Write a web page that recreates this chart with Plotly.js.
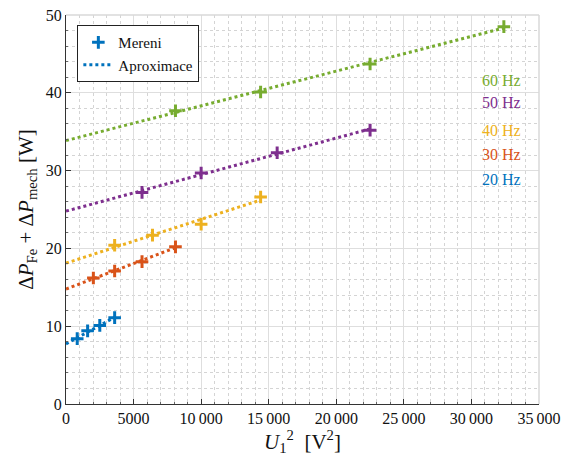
<!DOCTYPE html>
<html>
<head>
<meta charset="utf-8">
<script src="https://cdn.plot.ly/plotly-3.0.1.min.js"></script>
<style>html,body{margin:0;padding:0;background:#fff}#plot{width:566px;height:466px}</style>
</head>
<body>
<div id="plot"></div>
<script>
// Data
const seriesNames = ['20 Hz', '30 Hz', '40 Hz', '50 Hz', '60 Hz'];
const seriesColors = ['#0072BD', '#D95319', '#EDB120', '#7E2F8E', '#77AC30'];
const x20 = [830, 1600, 2500, 3600];
const y20 = [8.4, 9.4, 10.1, 11.1];
const x30 = [2025, 3600, 5625, 8100];
const y30 = [16.2, 17.1, 18.3, 20.2];
const x40 = [3600, 6400, 10000, 14400];
const y40 = [20.4, 21.7, 23.1, 26.6];
const x50 = [5625, 10000, 15625, 22500];
const y50 = [27.2, 29.7, 32.3, 35.2];
const x60 = [8100, 14400, 22500, 32400];
const y60 = [37.7, 40.1, 43.7, 48.5];
const labelY = [28.9, 32.1, 35.2, 38.7, 41.6];
const xTickVals = [0, 5000, 10000, 15000, 20000, 25000, 30000, 35000];
const xTickText = ['0', '5000', '10\u2009000', '15\u2009000', '20\u2009000', '25\u2009000', '30\u2009000', '35\u2009000'];
const yTickVals = [0, 10, 20, 30, 40, 50];

const xs = [x20, x30, x40, x50, x60];
const ys = [y20, y30, y40, y50, y60];

function fit(x, y) {
  const n = x.length;
  const mx = x.reduce((a, b) => a + b, 0) / n;
  const my = y.reduce((a, b) => a + b, 0) / n;
  let sxy = 0, sxx = 0;
  for (let i = 0; i < n; i++) { sxy += (x[i] - mx) * (y[i] - my); sxx += (x[i] - mx) ** 2; }
  const k = sxy / sxx;
  return {k: k, q: my - k * mx};
}

const traces = [];
const FONT = 'Liberation Serif';
for (let s = 0; s < 5; s++) {
  const f = fit(xs[s], ys[s]);
  const xmax = Math.max(...xs[s]);
  traces.push({
    x: [0, xmax], y: [f.q, f.q + f.k * xmax], mode: 'lines',
    line: {color: seriesColors[s], width: 3, dash: 'dot'},
    name: 'Aproximace', showlegend: s === 0, legendrank: 2, hoverinfo: 'skip'
  });
}
for (let s = 0; s < 5; s++) {
  traces.push({
    x: xs[s], y: ys[s], mode: 'markers',
    marker: {symbol: 'cross-thin', size: 9, color: seriesColors[s], line: {color: seriesColors[s], width: 3}},
    name: 'Mereni', showlegend: s === 0, legendrank: 1
  });
}

const annotations = seriesNames.map((t, i) => ({
  x: 33790, y: labelY[i], xref: 'x', yref: 'y', text: t, showarrow: false,
  xanchor: 'right', yanchor: 'middle', font: {family: FONT, size: 16, color: seriesColors[i]}
}));

const layout = {
  width: 566, height: 466,
  margin: {l: 65.5, r: 26.5, t: 15, b: 62},
  paper_bgcolor: '#fff', plot_bgcolor: '#fff',
  font: {family: FONT, size: 16, color: '#222'},
  showlegend: true,
  legend: {x: 0.024, y: 0.974, xanchor: 'left', yanchor: 'top', bgcolor: '#fff',
           bordercolor: '#222', borderwidth: 1, font: {family: FONT, size: 15, color: '#111'},
           traceorder: 'normal', tracegroupgap: 0, itemwidth: 30},
  xaxis: {
    range: [0, 35000], tickvals: xTickVals, ticktext: xTickText,
    showline: true, linecolor: '#333', linewidth: 1, ticks: 'inside', ticklen: 5, tickcolor: '#333',
    showgrid: true, gridcolor: '#dedede', gridwidth: 1, zeroline: false,
    minor: {dtick: 1000, showgrid: true, gridcolor: '#d4d4d4', griddash: 'dot', ticks: 'inside', ticklen: 2, tickcolor: '#666'},
    tickfont: {family: FONT, size: 16, color: '#111'},
    title: {text: '<i>U</i><sub>1</sub><sup>2</sup>  [V<sup>2</sup>]', font: {family: FONT, size: 21, color: '#111'}, standoff: 2}
  },
  yaxis: {
    range: [0, 50], tickvals: yTickVals,
    showline: true, linecolor: '#333', linewidth: 1, ticks: 'inside', ticklen: 5, tickcolor: '#333',
    showgrid: true, gridcolor: '#dedede', gridwidth: 1, zeroline: false,
    minor: {dtick: 2, showgrid: true, gridcolor: '#d4d4d4', griddash: 'dot', ticks: 'inside', ticklen: 2, tickcolor: '#666'},
    tickfont: {family: FONT, size: 16, color: '#111'},
    title: {text: '\u0394<i>P</i><sub>Fe</sub> + \u0394<i>P</i><sub>mech</sub> [W]', font: {family: FONT, size: 21, color: '#111'}, standoff: 6}
  },
  shapes: [
    {type: 'line', xref: 'paper', yref: 'paper', x0: 0, x1: 1, y0: 1, y1: 1, line: {color: '#d8d8d8', width: 1.5}},
    {type: 'line', xref: 'paper', yref: 'paper', x0: 1, x1: 1, y0: 0, y1: 1, line: {color: '#d8d8d8', width: 1.5}}
  ],
  annotations: annotations
};

Plotly.newPlot('plot', traces, layout, {displayModeBar: false, staticPlot: true});
</script>
</body>
</html>
